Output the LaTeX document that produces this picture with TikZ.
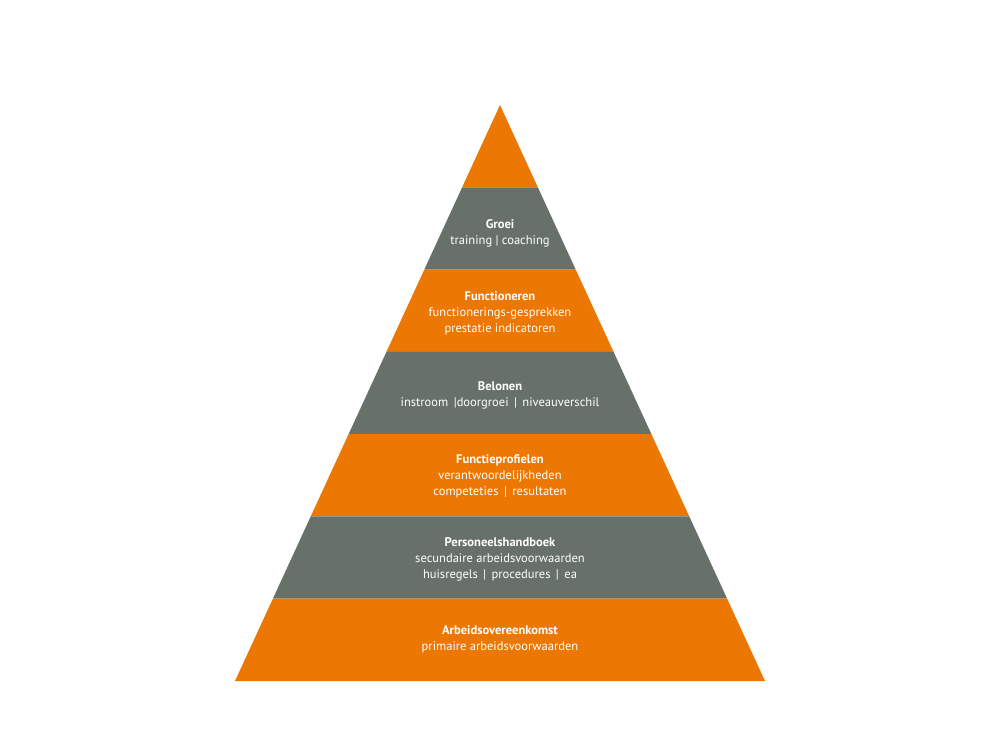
\documentclass[tikz,border=0pt]{standalone}
\usepackage{fontspec}
\setmainfont{PT Sans}
\definecolor{pyrorange}{HTML}{EC7703}
\definecolor{pyrgrey}{HTML}{687169}
\begin{document}
\begin{tikzpicture}[x=0.75pt,y=-0.75pt,
  layertext/.style={text=white,align=center,font=\fontsize{9.4}{12}\selectfont},
  orangelayer/.style={fill=pyrorange,draw=none},
  greylayer/.style={fill=pyrgrey,draw=none}]
\useasboundingbox (0,0) rectangle (1000,750);
% apex (500,105), base (235,681)-(765,681); layer height 576/7 = 82.286, half-width step 265/7 = 37.857
\foreach \i/\st in {0/orangelayer,1/greylayer,2/orangelayer,3/greylayer,4/orangelayer,5/greylayer,6/orangelayer}{
  \pgfmathsetmacro{\ya}{105+\i*82.286}
  \pgfmathsetmacro{\yb}{105+(\i+1)*82.286}
  \pgfmathsetmacro{\wa}{\i*37.857}
  \pgfmathsetmacro{\wb}{(\i+1)*37.857}
  \path[\st] (500-\wa,\ya) -- (500+\wa,\ya) -- (500+\wb,\yb) -- (500-\wb,\yb) -- cycle;
}
\node[layertext] (groei) at (500,233) {\textbf{Groei}\\training | coaching};
\node[layertext] (func) at (500,313) {\textbf{Functioneren}\\functionerings-gesprekken\\prestatie indicatoren};
\node[layertext] (belonen) at (500,395) {\textbf{Belonen}\\instroom \,|doorgroei \,|\, niveauverschil};
\node[layertext] (profiel) at (500,476) {\textbf{Functieprofielen}\\verantwoordelijkheden\\competeties \,|\, resultaten};
\node[layertext] (handboek) at (500,559) {\textbf{Personeelshandboek}\\secundaire arbeidsvoorwaarden\\huisregels \,|\, procedures \,|\, ea};
\node[layertext] (arbeid) at (500,639) {\textbf{Arbeidsovereenkomst}\\primaire arbeidsvoorwaarden};
\end{tikzpicture}
\end{document}
